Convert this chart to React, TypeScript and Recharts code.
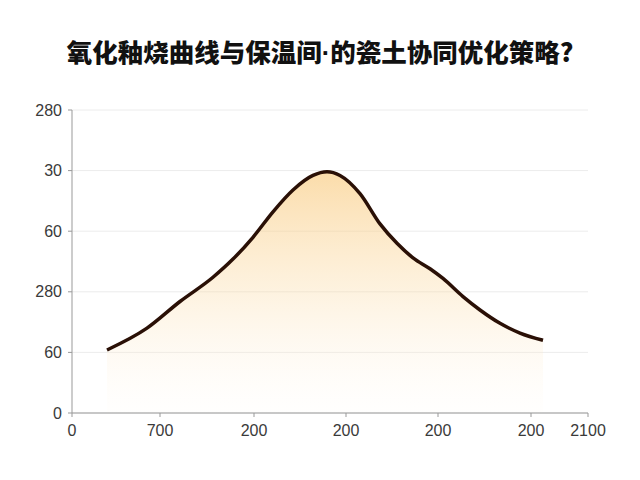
import React from 'react';
import { AreaChart, Area, XAxis, YAxis, CartesianGrid } from 'recharts';

// curve samples (x in axis units, y in axis units)
const curveX = [35, 75, 108, 141, 161, 181, 201, 221, 241, 255, 268, 288, 308, 325, 341, 358, 371, 391, 408, 428, 448, 471];
const curveY = [52, 70, 92, 112, 127, 145, 166, 184, 196, 199, 196, 181, 156, 140, 128, 119, 111, 96, 85, 74, 66, 60];

const xTicks = [0, 88, 182, 274, 366, 459, 516];
const xTickLabels = ['0', '700', '200', '200', '200', '200', '2100'];
const yTicks = [0, 50, 100, 150, 200, 250];
const yTickLabels = ['0', '60', '280', '60', '30', '280'];

const data = curveX.map((x, i) => ({ x, y: curveY[i] }));

const tickStyle = { fill: '#3a3a3a', fontSize: 16, fontFamily: 'Liberation Sans, Arial, sans-serif' };

export default function App() {
  return (
    <div style={{ position: 'fixed', left: 0, top: 0, width: 640, height: 480, background: '#fff' }}>
      <div
        style={{
          position: 'absolute',
          top: 32,
          left: 0,
          width: 640,
          textAlign: 'center',
          fontFamily: '"Noto Sans CJK SC", sans-serif',
          fontWeight: 900,
          fontSize: 25.5,
          color: '#111',
        }}
      >
        氧化釉烧曲线与保温间<span style={{ fontFamily: 'Liberation Sans, sans-serif' }}>·</span>的瓷土协同优化策略?
      </div>
      <AreaChart width={640} height={480} data={data} margin={{ top: 110, right: 52, bottom: 37, left: 12 }}>
        <defs>
          <linearGradient id="glow" x1="0" y1="0" x2="0" y2="1">
            <stop offset="0%" stopColor="#f8c26a" stopOpacity={0.95} />
            <stop offset="50%" stopColor="#fbdca8" stopOpacity={0.6} />
            <stop offset="100%" stopColor="#fff8ee" stopOpacity={0.15} />
          </linearGradient>
        </defs>
        <CartesianGrid vertical={false} stroke="#ececec" />
        <XAxis
          dataKey="x"
          type="number"
          domain={[0, 516]}
          ticks={xTicks}
          tickFormatter={(v: number) => xTickLabels[xTicks.indexOf(v)] ?? ''}
          stroke="#999"
          tick={tickStyle}
          tickSize={4}
          tickMargin={8}
          height={30}
          interval={0}
        />
        <YAxis
          type="number"
          domain={[0, 250]}
          ticks={yTicks}
          tickFormatter={(v: number) => yTickLabels[yTicks.indexOf(v)] ?? ''}
          stroke="#999"
          tick={tickStyle}
          tickSize={4}
          tickMargin={6}
          width={60}
          interval={0}
        />
        <Area
          type="monotone"
          dataKey="y"
          stroke="#2a1006"
          strokeWidth={3.5}
          fill="url(#glow)"
          isAnimationActive={false}
          dot={false}
          activeDot={false}
        />
      </AreaChart>
    </div>
  );
}
